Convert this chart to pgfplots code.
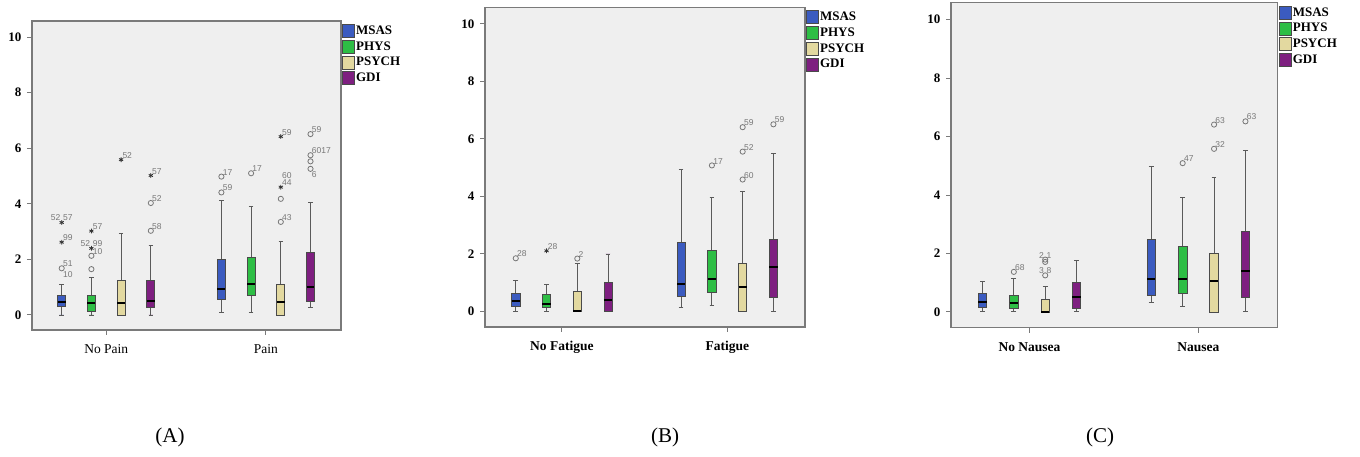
\documentclass[border=0pt]{standalone}
\usepackage{fontspec}
\setmainfont{Liberation Serif}
\setsansfont{Liberation Sans}
\usepackage{pgfplots}
\pgfplotsset{compat=1.18}
\usepgfplotslibrary{statistics}

\definecolor{msas}{HTML}{3B5BC0}
\definecolor{phys}{HTML}{2EBE45}
\definecolor{psych}{HTML}{E3D9A0}
\definecolor{gdi}{HTML}{7E1F80}
\definecolor{bgc}{HTML}{EFEFEF}
\definecolor{framec}{HTML}{7A7A7A}
\definecolor{boxc}{HTML}{4A4A4A}
\definecolor{whc}{HTML}{5A5A5A}
\definecolor{outc}{HTML}{777777}

\pgfplotsset{
  legbox/.style={legend image code/.code={\draw[draw=boxc,fill=#1] (0pt,-6.5pt) rectangle (12pt,6.5pt);}},
  panel/.style={
    scale only axis,
    xmin=-0.465, xmax=1.47, ymin=-0.54, ymax=10.58,
    axis background/.style={fill=bgc},
    axis line style={draw=framec, line width=1.1pt},
    xtick={0,1}, ytick={0,2,...,10},
    xtick pos=left, ytick pos=left,
    tick align=outside, major tick length=5pt,
    tick style={draw=framec, line width=1pt},
    /pgf/number format/assume math mode=true,
    yticklabel style={font=\bfseries\fontsize{13}{13}\selectfont, xshift=-2pt},
    xticklabel style={font=\bfseries\fontsize{13.5}{13.5}\selectfont, yshift=-6pt},
    boxplot/draw direction=y,
    boxplot/box extend=0.05,
    boxplot/whisker extend=0.028,
    boxplot/every median/.style={draw=black, line width=2pt},
    boxplot/every whisker/.style={draw=whc, line width=0.9pt},
    legend style={at={(1,1)}, anchor=north west, xshift=1pt, yshift=-3pt,
      draw=none, fill=none, font=\bfseries\fontsize{13}{13}\selectfont,
      inner sep=0pt, row sep=2.3pt, nodes={inner sep=1.5pt}},
    legend cell align=left,
  },
  outl/.style={only marks, mark=o, mark size=2.6pt, mark options={draw=outc, line width=0.8pt},
    nodes near coords, point meta=explicit symbolic,
    nodes near coords style={font=\sffamily\fontsize{8.5}{8.5}\selectfont, text=outc, anchor=south west, inner sep=1pt}},
  outs/.style={outl, mark=asterisk, mark size=2.4pt, mark options={draw=black!80, line width=0.8pt}},
  labl/.style={outl, mark=none},
  labr/.style={outl, mark=none, nodes near coords style={anchor=south east}},
}

% fill, position, lower whisker, Q1, median, Q3, upper whisker
\newcommand{\bx}[7]{\addplot[draw=boxc, fill=#1, line width=0.7pt,
  boxplot prepared={draw position=#2, lower whisker=#3, lower quartile=#4,
  median=#5, upper quartile=#6, upper whisker=#7}] coordinates {};}

\newcommand{\legendfour}{%
  \addlegendimage{legbox=msas}\addlegendentry{MSAS}
  \addlegendimage{legbox=phys}\addlegendentry{PHYS}
  \addlegendimage{legbox=psych}\addlegendentry{PSYCH}
  \addlegendimage{legbox=gdi}\addlegendentry{GDI}}

\begin{document}
\begin{tikzpicture}
\path[use as bounding box] (0pt,0pt) rectangle (1360pt,457pt);

% ---------------- (A) pain
\begin{axis}[panel, width=309pt, height=309pt, at={(32pt,127pt)}, anchor=south west,
  xticklabels={No Pain, Pain}, xticklabel style={font=\fontsize{13.5}{13.5}\selectfont}]
\legendfour
\bx{msas}{-0.279}{0}{0.30}{0.48}{0.72}{1.10}
\bx{phys}{-0.093}{0}{0.14}{0.44}{0.70}{1.35}
\bx{psych}{0.093}{0}{0}{0.42}{1.26}{2.94}
\bx{gdi}{0.279}{0}{0.28}{0.50}{1.26}{2.50}
\bx{msas}{0.721}{0.10}{0.58}{0.93}{2.02}{4.11}
\bx{phys}{0.907}{0.10}{0.71}{1.13}{2.09}{3.92}
\bx{psych}{1.093}{0}{0}{0.48}{1.11}{2.66}
\bx{gdi}{1.279}{0.26}{0.50}{1.02}{2.26}{4.05}
\addplot[outl] coordinates {(-0.279,1.68) [51] (-0.093,1.65) [] (-0.093,2.13) [10]
  (0.279,3.03) [58] (0.279,4.03) [52] (0.721,4.41) [59] (0.721,4.98) [17]
  (0.907,5.10) [17] (1.093,3.35) [43] (1.093,4.18) [] (1.279,5.26) [] (1.279,5.53) []
  (1.279,5.75) [6017] (1.279,6.51) [59]};
\addplot[outs] coordinates {(-0.279,2.62) [99] (-0.279,3.33) [57] (-0.093,2.40) [99]
  (-0.093,3.02) [57] (0.093,5.59) [52] (0.279,5.02) [57] (1.093,4.60) [44] (1.093,6.42) [59]};
\addplot[labl] coordinates {(-0.279,1.30) [10] (1.279,4.90) [6] (1.093,4.85) [60]};
\addplot[labr] coordinates {(-0.279,3.33) [52] (-0.093,2.40) [52]};
\end{axis}

% ---------------- (B) fatigue
\begin{axis}[panel, width=320pt, height=319.7pt, at={(485pt,130pt)}, anchor=south west,
  xticklabels={No Fatigue, Fatigue}]
\legendfour
\bx{msas}{-0.279}{0}{0.17}{0.37}{0.64}{1.08}
\bx{phys}{-0.093}{0}{0.15}{0.27}{0.59}{0.93}
\bx{psych}{0.093}{0}{0}{0}{0.71}{1.68}
\bx{gdi}{0.279}{0}{0}{0.41}{1.01}{2.00}
\bx{msas}{0.721}{0.15}{0.54}{0.95}{2.39}{4.95}
\bx{phys}{0.907}{0.20}{0.66}{1.14}{2.11}{3.95}
\bx{psych}{1.093}{0}{0}{0.85}{1.68}{4.19}
\bx{gdi}{1.279}{0}{0.50}{1.53}{2.51}{5.50}
\addplot[outl] coordinates {(-0.279,1.85) [28] (0.093,1.84) [2] (0.907,5.08) [17]
  (1.093,4.59) [60] (1.093,5.56) [52] (1.093,6.41) [59] (1.279,6.51) [59]};
\addplot[outs] coordinates {(-0.093,2.11) [28]};
\end{axis}

% ---------------- (C) nausea
\begin{axis}[panel, width=326.7pt, height=325pt, at={(951pt,129.3pt)}, anchor=south west,
  xticklabels={No Nausea, Nausea}]
\legendfour
\bx{msas}{-0.279}{0}{0.17}{0.34}{0.63}{1.05}
\bx{phys}{-0.093}{0}{0.11}{0.29}{0.57}{1.16}
\bx{psych}{0.093}{0}{0}{0}{0.42}{0.86}
\bx{gdi}{0.279}{0}{0.11}{0.51}{1.01}{1.77}
\bx{msas}{0.721}{0.31}{0.55}{1.11}{2.47}{4.99}
\bx{phys}{0.907}{0.19}{0.65}{1.13}{2.26}{3.93}
\bx{psych}{1.093}{0}{0}{1.06}{2.02}{4.60}
\bx{gdi}{1.279}{0}{0.49}{1.39}{2.77}{5.51}
\addplot[outl] coordinates {(-0.093,1.37) [68] (0.093,1.25) [8] (0.093,1.71) []
  (0.093,1.79) [1] (0.907,5.09) [47] (1.093,5.58) [32] (1.093,6.41) [63] (1.279,6.52) [63]};
\addplot[labr] coordinates {(0.093,1.25) [3] (0.093,1.79) [2]};
\end{axis}

\node[font=\fontsize{21}{21}\selectfont] at (170pt,20pt) {(A)};
\node[font=\fontsize{21}{21}\selectfont] at (665pt,20pt) {(B)};
\node[font=\fontsize{21}{21}\selectfont] at (1100pt,20pt) {(C)};
\end{tikzpicture}
\end{document}
